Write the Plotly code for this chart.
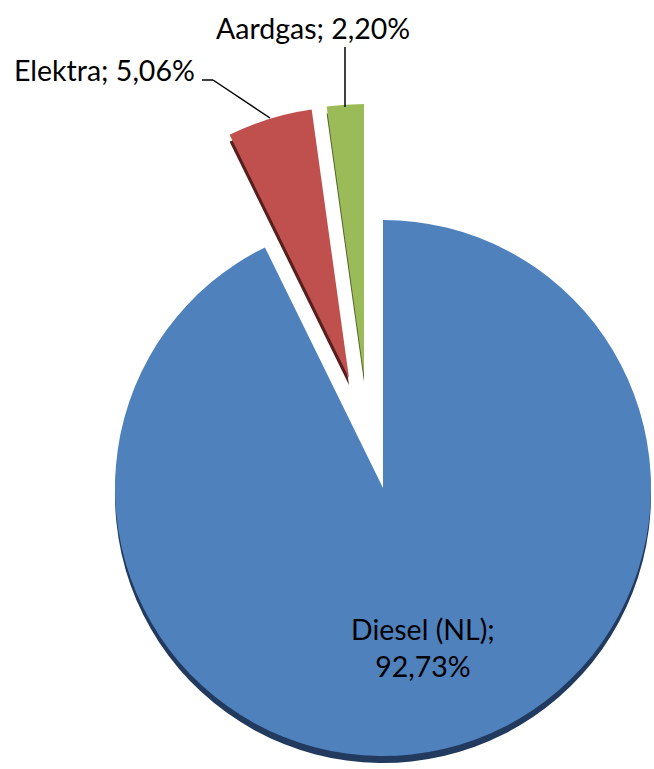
import plotly.graph_objects as go

# ---- data ----
labels = ["Diesel (NL)", "Elektra", "Aardgas"]
values = [92.73, 5.06, 2.20]
face_colors = ["#4f81bd", "#c0504d", "#9bbb59"]
side_colors = ["#223a5e", "#561e1c", "#4f6228"]

W, H = 654, 769
# slice centres (pixels) and radii: Diesel in place, the others exploded
centres = [(383, 488), (349, 378), (364, 375)]
radii = [268, 271, 271]
DEPTH = 7  # 3D side thickness in px


def fmt(v):
    return f"{v:.2f}%".replace(".", ",")


def dom(cx, cy, r):
    return dict(x=[(cx - r) / W, (cx + r) / W],
                y=[1 - (cy + r) / H, 1 - (cy - r) / H])


def px(x):
    return x / W


def py(y):
    return 1 - y / H


fig = go.Figure()
transparent = "rgba(0,0,0,0)"
for i, (cx, cy) in enumerate(centres):
    for layer, dy in (("side", DEPTH), ("face", 0)):
        cols = [transparent] * len(values)
        cols[i] = side_colors[i] if layer == "side" else face_colors[i]
        fig.add_trace(go.Pie(
            labels=labels, values=values, sort=False,
            direction="clockwise", rotation=0,
            marker=dict(colors=cols, line=dict(width=0)),
            textinfo="none", hoverinfo="skip", showlegend=False,
            domain=dom(cx, cy + dy, radii[i]),
        ))

font = dict(family="Lato, 'Open Sans', sans-serif", size=28.5, color="#000000")
annotations = [
    dict(x=px(423), y=py(647), text=f"{labels[0]};<br>{fmt(values[0])}",
         showarrow=False, xanchor="center", yanchor="middle", font=font),
    dict(x=px(104), y=py(70), text=f"{labels[1]}; {fmt(values[1])}",
         showarrow=False, xanchor="center", yanchor="middle", font=font),
    dict(x=px(313), y=py(28), text=f"{labels[2]}; {fmt(values[2])}",
         showarrow=False, xanchor="center", yanchor="middle", font=font),
]

line = dict(color="#000000", width=1.5)
shapes = [
    dict(type="line", xref="paper", yref="paper",
         x0=px(202), y0=py(80), x1=px(213), y1=py(80), line=line),
    dict(type="line", xref="paper", yref="paper",
         x0=px(213), y0=py(80), x1=px(270), y1=py(118), line=line),
    dict(type="line", xref="paper", yref="paper",
         x0=px(345), y0=py(47), x1=px(345), y1=py(107), line=line),
]

fig.update_layout(
    width=W, height=H, autosize=False,
    margin=dict(l=0, r=0, t=0, b=0),
    paper_bgcolor="#ffffff", plot_bgcolor="#ffffff",
    annotations=annotations, shapes=shapes,
)

fig.write_html("out.html", config={"displayModeBar": False},
               post_script="document.body.style.margin='0';document.body.style.overflow='hidden';")
